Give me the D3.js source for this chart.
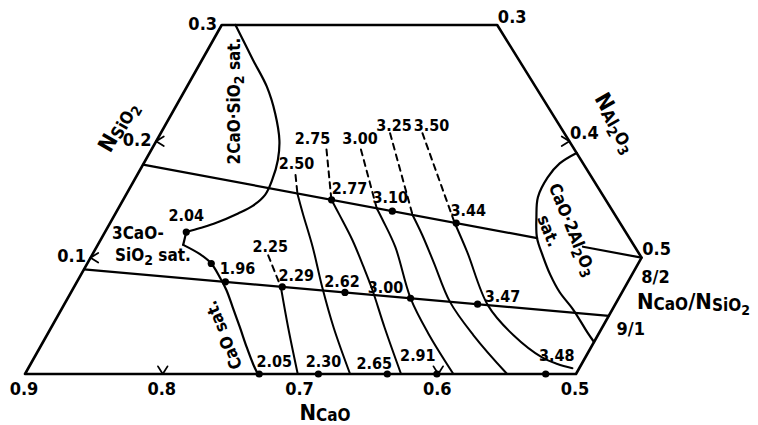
<!DOCTYPE html>
<html>
<head>
<meta charset="utf-8">
<script src="https://cdn.jsdelivr.net/npm/d3@7"></script>
<style>
  body { margin: 0; background: #fff; }
  text { font-family: "DejaVu Sans Condensed", "DejaVu Sans", sans-serif; font-weight: bold; fill: #000; }
</style>
</head>
<body>
<script>
// every point is [NCaO, NSiO2]; NAl2O3 = 1 - NCaO - NSiO2
const outline = [[0.9, 0], [0.6, 0.3], [0.4, 0.3], [0.4, 0.1], [0.5, 0]];

const caoValues = [0.9, 0.8, 0.7, 0.6, 0.5];
const caoTickMarks = [0.8, 0.6];
const sio2Values = [0.1, 0.2, 0.3];
const sio2TickMarks = [0.1, 0.2];
const al2o3Values = [0.3, 0.4, 0.5];
const al2o3TickMarks = [0.4];

// saturation boundaries
const sat2CaOSiO2 = [[0.590, 0.300], [0.593, 0.270], [0.595, 0.247], [0.601, 0.224], [0.610, 0.201],
  [0.620, 0.184], [0.633, 0.167], [0.645, 0.154], [0.659, 0.1445], [0.673, 0.138], [0.693, 0.130],
  [0.707, 0.1255], [0.719, 0.122]];
const sat3CaOSiO2 = [[0.719, 0.122], [0.727, 0.111]];
const satCaO = [[0.727, 0.111], [0.719, 0.103], [0.715, 0.095], [0.715, 0.083], [0.716, 0.072],
  [0.719, 0.058], [0.723, 0.040], [0.727, 0.023], [0.730, 0.008], [0.731, 0]];
const satCaO2Al2O3 = [[0.400, 0.190], [0.417, 0.181], [0.432, 0.169], [0.448, 0.152], [0.458, 0.135],
  [0.467, 0.117], [0.471, 0.101], [0.474, 0.085], [0.475, 0.0705], [0.473, 0.055], [0.473, 0.036],
  [0.4725, 0.0275]];

// constant NCaO/NSiO2 lines
const ratioNames = ["8/2", "9/1"];
const ratio82 = [[[0.72, 0.18], [0.467, 0.1168]], [[0.4376, 0.1094], [0.4, 0.1]]];
const ratio91 = [[[0.81, 0.09], [0.45, 0.05]]];

// iso-lines
const isoLabels = ["2.25", "2.50", "2.75", "3.00", "3.25", "3.50"];
const isoDashed = [
  [[0.670, 0.102], [0.675, 0.075]],
  [[0.614, 0.171], [0.621, 0.155]],
  [[0.580, 0.193], [0.599, 0.150]],
  [[0.555, 0.193], [0.570, 0.1425]],
  [[0.5265, 0.207], [0.547, 0.1367]],
  [[0.503, 0.207], [0.520, 0.130]]
];
const isoSolid = [
  [[0.675, 0.075], [0.688, 0.040], [0.702, 0]],
  [[0.621, 0.155], [0.626, 0.138], [0.634, 0.109], [0.645, 0.075], [0.655, 0.040], [0.664, 0]],
  [[0.599, 0.150], [0.600, 0.137], [0.602, 0.115], [0.606, 0.092], [0.610, 0.072], [0.618, 0.040], [0.627, 0]],
  [[0.570, 0.1425], [0.571, 0.132], [0.574, 0.109], [0.586, 0.065], [0.589, 0.034], [0.589, 0]],
  [[0.547, 0.1367], [0.549, 0.1195], [0.553, 0.096], [0.559, 0.062], [0.557, 0.0335], [0.550, 0]],
  [[0.520, 0.130], [0.524, 0.105], [0.533, 0.059], [0.528, 0.0335], [0.517, 0.014], [0.509, 0.0086], [0.500, 0.005]]
];

// measured points
const line82Labels = ["2.77", "3.10", "3.44"];
const line82CaO = [0.599, 0.560, 0.519];
const line91Labels = ["1.96", "2.29", "2.62", "3.00", "3.47"];
const line91CaO = [0.713, 0.674, 0.631, 0.586, 0.540];
const baseLabels = ["2.05", "2.30", "2.65", "2.91", "3.48"];
const baseCaO = [0.730, 0.687, 0.637, 0.601, 0.522];
const otherLabels = ["2.04", ""];
const otherPoints = [[0.719, 0.122], [0.715, 0.095]];

// label offsets (px) from their anchor point
const off82 = [[18, -11], [-2, -14], [12, -13]];
const off91 = [[12, -13], [14, -11], [-3, -11], [-25, -11], [25, -8]];
const offBase = [[15, -13], [5, -13], [-13, -11], [-19, -19], [11, -19]];
const offOther = [[0, -17], [0, 0]];
const isoOff = [[2, -9], [1, -12], [-14, -11], [-1, -11], [4, -8], [9, -8]];

const width = 758, height = 425;
const SHEAR = 0.476;

const xScale = d3.scaleLinear().domain([0.1, 0.5]).range([25, 576]);
const yScale = d3.scaleLinear().domain([0, 0.3]).range([374, 25]);
const px = d => xScale(1 - d[0] - d[1] + SHEAR * d[1]);
const py = d => yScale(d[1]);

const svg = d3.select("body").append("svg")
  .attr("width", width)
  .attr("height", height);

svg.append("rect").attr("width", width).attr("height", height).attr("fill", "#fff");

const straight = d3.line().x(px).y(py);
const smooth = d3.line().x(px).y(py).curve(d3.curveCatmullRom.alpha(0.5));

function drawPath(pts, gen, w, dash) {
  svg.append("path")
    .attr("d", gen(pts))
    .attr("fill", "none")
    .attr("stroke", "#000")
    .attr("stroke-width", w)
    .attr("stroke-linejoin", "round")
    .attr("stroke-linecap", "round")
    .attr("stroke-dasharray", dash || null);
}

// frame
drawPath(outline.concat([outline[0]]), straight, 2.6);

// ratio lines
ratio82.concat(ratio91).forEach(seg => drawPath(seg, straight, 2.2));

// boundaries
drawPath(sat2CaOSiO2, smooth, 2.2);
drawPath(sat3CaOSiO2, straight, 2.2);
drawPath(satCaO, smooth, 2.2);
drawPath(satCaO2Al2O3, smooth, 2.2);

// iso-lines
isoDashed.forEach(seg => drawPath(seg, straight, 2, "6,5"));
isoSolid.forEach(seg => drawPath(seg, smooth, 2));

// tick marks: two short arms around an opening direction
function tick(p, dirDeg) {
  const x = px(p), y = py(p), len = 9;
  [-32, 32].forEach(da => {
    const a = (dirDeg + da) * Math.PI / 180;
    svg.append("line")
      .attr("x1", x).attr("y1", y)
      .attr("x2", x + len * Math.cos(a)).attr("y2", y + len * Math.sin(a))
      .attr("stroke", "#000").attr("stroke-width", 1.8).attr("stroke-linecap", "round");
  });
}
caoTickMarks.forEach(c => tick([c, 0], -90));
sio2TickMarks.forEach(n => tick([0.9 - n, n], 0));
al2o3TickMarks.forEach(a => tick([0.4, 1 - 0.4 - a], 180));

// dots and labels
function label(x, y, txt, size) {
  return svg.append("text")
    .attr("x", x).attr("y", y)
    .attr("text-anchor", "middle")
    .attr("dominant-baseline", "central")
    .style("font-size", (size || 16) + "px")
    .text(txt);
}

function dots(points, labels, offs) {
  points.forEach((p, i) => {
    svg.append("circle").attr("cx", px(p)).attr("cy", py(p)).attr("r", 3.6).attr("fill", "#000");
    if (labels[i]) label(px(p) + offs[i][0], py(p) + offs[i][1], labels[i]);
  });
}
dots(line82CaO.map(c => [c, c / 4]), line82Labels, off82);
dots(line91CaO.map(c => [c, c / 9]), line91Labels, off91);
dots(baseCaO.map(c => [c, 0]), baseLabels, offBase);
dots(otherPoints, otherLabels, offOther);

isoDashed.forEach((seg, i) => label(px(seg[0]) + isoOff[i][0], py(seg[0]) + isoOff[i][1], isoLabels[i]));

// axis values
caoValues.forEach(c => label(px([c, 0]) - 1, py([c, 0]) + 14, c.toFixed(1), 18));
sio2Values.forEach(n => label(px([0.9 - n, n]) - 19, py([0.9 - n, n]) - 2, n.toFixed(1), 18));
al2o3Values.forEach(a => {
  const p = [0.4, 1 - 0.4 - a];
  label(px(p) + 15, py(p) - 9, a.toFixed(1), 18);
});

// ratio labels at the right end of each line
label(px(ratio82[1][1]) + 14, py(ratio82[1][1]) + 19, ratioNames[0], 18);
label(px(ratio91[0][1]) + 22, py(ratio91[0][1]) + 13, ratioNames[1], 18);

// rich text helper: parts [text, size, dy]
function rich(x, y, parts, rotate, anchor) {
  const t = svg.append("text")
    .attr("text-anchor", anchor || "middle")
    .attr("transform", `translate(${x},${y}) rotate(${rotate || 0})`);
  parts.forEach(([s, size, dy]) => {
    t.append("tspan").attr("dy", dy || 0).style("font-size", size + "px").text(s);
  });
  return t;
}

// axis titles
rich(325, 420, [["N", 22], ["CaO", 17, 1]]);
rich(124, 130, [["N", 22], ["SiO", 17, 2], ["2", 14, 4]], -60);
rich(610, 126, [["N", 22], ["Al", 17, 2], ["2", 14, 4], ["O", 17, -4], ["3", 14, 4]], 60);
rich(637, 309, [["N", 22], ["CaO", 17, 1], ["/N", 22, -1], ["SiO", 17, 2], ["2", 14, 4]], 0, "start");

// phase field labels
rich(240, 101, [["2CaO·SiO", 17], ["2", 14, 4], [" sat.", 17, -4]], -90);
rich(112, 239, [["3CaO-", 17]], 0, "start");
rich(115, 261, [["SiO", 17], ["2", 14, 4], [" sat.", 17, -4]], 0, "start");
rich(229, 333, [["CaO sat.", 17]], -112);
rich(567, 232, [["CaO·2Al", 17], ["2", 14, 4], ["O", 17, -4], ["3", 14, 4]], 68);
rich(543, 233, [["sat.", 17]], 68);
</script>
</body>
</html>
